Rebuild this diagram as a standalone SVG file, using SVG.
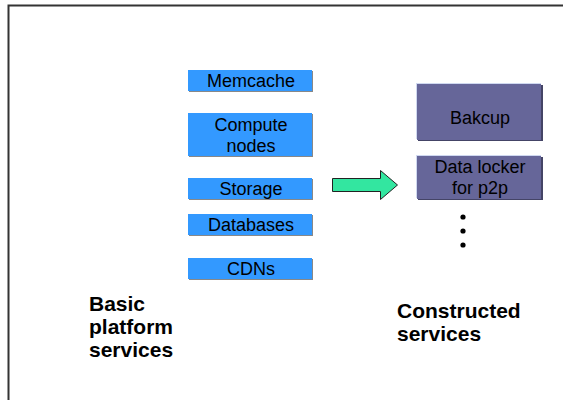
<svg xmlns="http://www.w3.org/2000/svg" width="563" height="400" viewBox="0 0 563 400">
<style>
.lbl{font-family:"Liberation Sans",Arial,sans-serif;font-size:18px;fill:#000;text-anchor:middle}
.big{font-family:"Liberation Sans",Arial,sans-serif;font-size:21px;font-weight:bold;fill:#000}
.blue{fill:#3399ff}
.purple{fill:#666699}
.sh{fill:#888}
.hl{fill:#cfd8f0}
</style>
<rect x="0" y="0" width="563" height="400" fill="#fff"/>
<path d="M8.5 400 V5.5 H563" fill="none" stroke="#333" stroke-width="2"/>
<g id="memcache">
<rect class="sh" x="189" y="71" width="124" height="21"/>
<rect class="blue" x="188" y="70" width="124" height="21"/>
<text class="lbl" x="251" y="87">Memcache</text>
</g>
<g id="compute">
<rect class="sh" x="189" y="114" width="124" height="43"/>
<rect class="blue" x="188" y="113" width="124" height="43"/>
<text class="lbl" x="251" y="131">Compute</text>
<text class="lbl" x="251" y="152">nodes</text>
</g>
<g id="storage">
<rect class="sh" x="189" y="179" width="124" height="21"/>
<rect class="blue" x="188" y="178" width="124" height="21"/>
<text class="lbl" x="251" y="195">Storage</text>
</g>
<g id="databases">
<rect class="sh" x="189" y="215" width="124" height="21"/>
<rect class="blue" x="188" y="214" width="124" height="21"/>
<text class="lbl" x="251" y="231">Databases</text>
</g>
<g id="cdns">
<rect class="sh" x="189" y="259" width="124" height="21"/>
<rect class="blue" x="188" y="258" width="124" height="21"/>
<text class="lbl" x="251" y="275">CDNs</text>
</g>
<g id="backup">
<rect fill="#444466" x="418" y="85" width="125" height="56"/>
<rect class="hl" x="416" y="83" width="125" height="56"/>
<rect class="purple" x="417" y="84" width="124" height="56"/>
<text class="lbl" x="480" y="124">Bakcup</text>
</g>
<g id="datalocker">
<rect fill="#444466" x="418" y="157" width="125" height="43"/>
<rect class="hl" x="416" y="155" width="125" height="43"/>
<rect class="purple" x="417" y="156" width="124" height="43"/>
<text class="lbl" x="480" y="173">Data locker</text>
<text class="lbl" x="480" y="194">for p2p</text>
</g>
<g id="dots" fill="#000">
<circle cx="463" cy="217" r="2.6"/>
<circle cx="463" cy="231" r="2.6"/>
<circle cx="463" cy="245" r="2.6"/>
</g>
<g id="connectors">
<path d="M332.5 178.5 H380.5 V170.5 L397.5 185 L380.5 199.5 V191.5 H332.5 Z" fill="#33e6a0" stroke="#222" stroke-width="1"/>
</g>
<g id="labels">
<text class="big" x="89" y="311">Basic</text>
<text class="big" x="89" y="334">platform</text>
<text class="big" x="89" y="357">services</text>
<text class="big" x="397" y="318">Constructed</text>
<text class="big" x="397" y="341">services</text>
</g>
</svg>
